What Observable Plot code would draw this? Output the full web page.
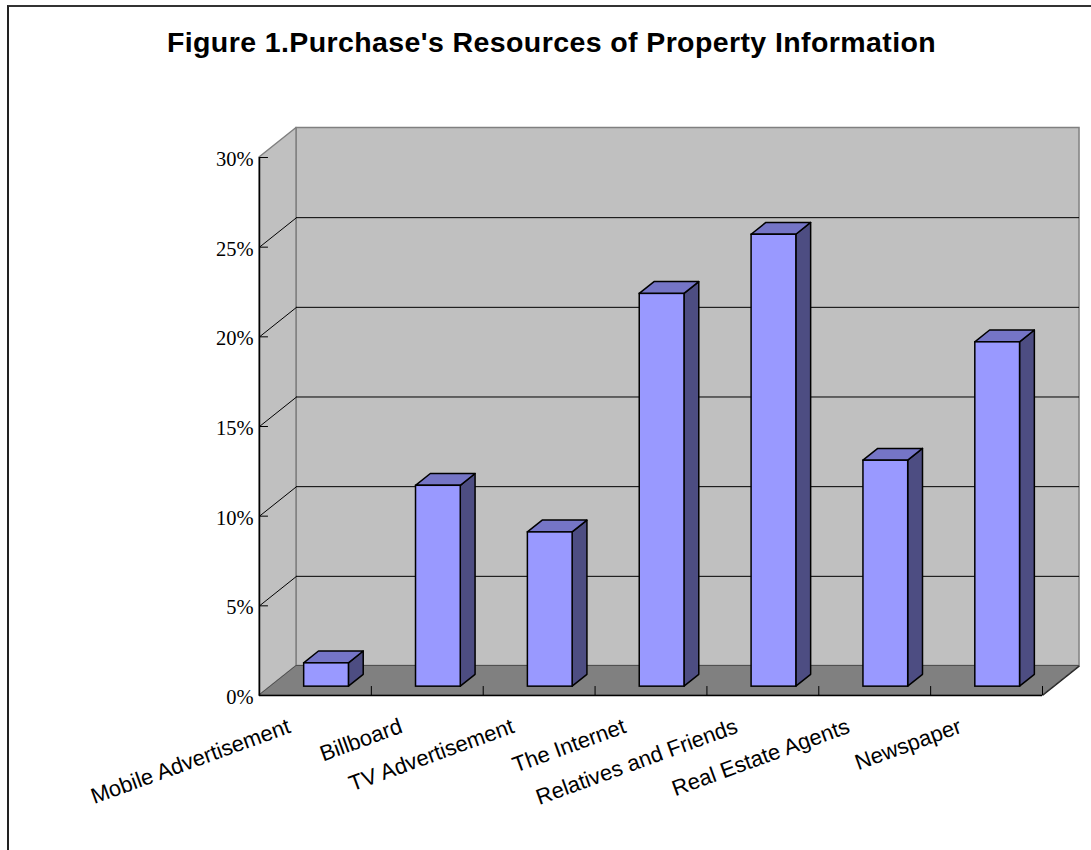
<!DOCTYPE html>
<html>
<head>
<meta charset="utf-8">
<script src="https://cdn.jsdelivr.net/npm/d3@7"></script>
<script src="https://cdn.jsdelivr.net/npm/@observablehq/plot@0.6"></script>
<style>
  html, body { margin: 0; padding: 0; background: #fff; }
  #wrap { position: relative; width: 1091px; height: 850px; overflow: hidden; }
  #frame { position: absolute; left: 7px; top: 5px; right: -10px; bottom: -10px;
           border-left: 2px solid #222; border-top: 2px solid #333; pointer-events: none; }
  #title { position: absolute; left: 0; top: 25px; width: 1091px; padding-left: 12px; box-sizing: border-box;
           text-align: center; font-family: "Liberation Sans", Arial, sans-serif; font-weight: bold;
           font-size: 28.5px; line-height: 34px; color: #000; letter-spacing: 0.4px; }
  #chart { position: absolute; left: 0; top: 90px; }
</style>
</head>
<body>
<div id="wrap">
  <div id="title">Figure 1.Purchase's Resources of Property Information</div>
  <div id="chart"></div>
  <div id="frame"></div>
</div>
<script>
// ---- data ----
const categories = ["Mobile Advertisement", "Billboard", "TV Advertisement", "The Internet",
                    "Relatives and Friends", "Real Estate Agents", "Newspaper"];
const values = [1.3, 11.2, 8.6, 21.9, 25.2, 12.6, 19.2];   // percent
const yTicks = [0, 5, 10, 15, 20, 25, 30];

// ---- 3D geometry (in data units of the scales) ----
const N = categories.length;
const yMax = yTicks[yTicks.length - 1];
const DXu = 0.331;   // full depth, x offset (category units)
const DYu = 1.645;   // full depth, y offset (percent units)
const Z1 = 0.3, Z2 = 0.7;         // bar front / back depth
const B0 = 0.3, B1 = 0.7;         // bar extent within its category
const tickUx = 0.08, tickUy = 0.5;

const bars = categories.map((c, i) => ({c, i, v: values[i]}));
const topPts = bars.flatMap(d => [
  {c: d.c, y: d.v + Z1 * DYu, x1: d.i + B0 + Z1 * DXu, x2: d.i + B1 + Z1 * DXu},
  {c: d.c, y: d.v + Z2 * DYu, x1: d.i + B0 + Z2 * DXu, x2: d.i + B1 + Z2 * DXu}
]);
const sidePts = bars.flatMap(d => [
  {c: d.c, x: d.i + B1 + Z1 * DXu, y1: Z1 * DYu, y2: d.v + Z1 * DYu},
  {c: d.c, x: d.i + B1 + Z2 * DXu, y1: Z2 * DYu, y2: d.v + Z2 * DYu}
]);
const inner = yTicks.filter(t => t > 0 && t < yMax);
const xTickPos = categories.map((c, i) => i + 0.5);

const chart = Plot.plot({
  width: 1091,
  height: 760,
  marginLeft: 259,
  marginRight: 49,
  marginTop: 67,
  marginBottom: 155,
  x: {domain: [0, N], axis: null, label: null},
  y: {domain: [0, yMax], axis: null, label: null},
  style: {background: "transparent", overflow: "visible"},
  marks: [
    // back wall
    Plot.rect([{x1: DXu, x2: N + DXu, y1: DYu, y2: yMax + DYu}],
      {x1: "x1", x2: "x2", y1: "y1", y2: "y2", fill: "#c0c0c0", stroke: "#808080", strokeWidth: 1.5}),
    // left wall
    Plot.areaY([{x: 0, y1: 0, y2: yMax}, {x: DXu, y1: DYu, y2: yMax + DYu}],
      {x: "x", y1: "y1", y2: "y2", fill: "#c0c0c0", stroke: "#808080", strokeWidth: 1.5}),
    // floor
    Plot.areaX([{y: 0, x1: 0, x2: N}, {y: DYu, x1: DXu, x2: N + DXu}],
      {y: "y", x1: "x1", x2: "x2", fill: "#808080", stroke: "#505050", strokeWidth: 1}),
    // back wall gridlines
    Plot.ruleY(inner, {y: t => t + DYu, x1: () => DXu, x2: () => N + DXu, stroke: "#000", strokeWidth: 1}),
    // left wall gridlines
    Plot.link(inner, {x1: () => 0, y1: t => t, x2: () => DXu, y2: t => t + DYu, stroke: "#000", strokeWidth: 1}),
    // floor right edge
    Plot.link([0], {x1: () => N, y1: () => 0, x2: () => N + DXu, y2: () => DYu, stroke: "#222", strokeWidth: 1.2}),
    // front axes
    Plot.ruleX([0], {y1: () => 0, y2: () => yMax, stroke: "#000", strokeWidth: 1.5}),
    Plot.ruleY([0], {x1: () => 0, x2: () => N, stroke: "#000", strokeWidth: 1.5}),
    Plot.ruleY(yTicks, {x1: () => 0, x2: () => tickUx, stroke: "#000", strokeWidth: 1}),
    Plot.ruleX(d3.range(1, N + 1), {y1: () => 0, y2: () => tickUy, stroke: "#000", strokeWidth: 1}),
    // bars: side, top, front
    Plot.areaY(sidePts, {x: "x", y1: "y1", y2: "y2", z: "c", fill: "#4d4d82", stroke: "#000", strokeWidth: 1.5, strokeLinejoin: "round"}),
    Plot.areaX(topPts, {y: "y", x1: "x1", x2: "x2", z: "c", fill: "#7575c6", stroke: "#000", strokeWidth: 1.5, strokeLinejoin: "round"}),
    Plot.rect(bars, {x1: d => d.i + B0 + Z1 * DXu, x2: d => d.i + B1 + Z1 * DXu,
      y1: () => Z1 * DYu, y2: d => d.v + Z1 * DYu, fill: "#9999ff", stroke: "#000", strokeWidth: 1.5}),
    // axes labels
    Plot.axisY(yTicks, {anchor: "left", tickSize: 0, tickPadding: 6, tickFormat: d => d + "%",
      fontFamily: "Liberation Serif", fontSize: 20.5, dy: 2, label: null}),
    Plot.axisX(xTickPos, {anchor: "bottom", tickSize: 0, tickPadding: 0, tickFormat: d => categories[Math.floor(d)],
      tickRotate: -20, textAnchor: "end", lineAnchor: "top", dx: -29, dy: 22,
      fontFamily: "Liberation Sans", fontSize: 22, label: null})
  ]
});
document.getElementById("chart").appendChild(chart);
</script>
</body>
</html>
